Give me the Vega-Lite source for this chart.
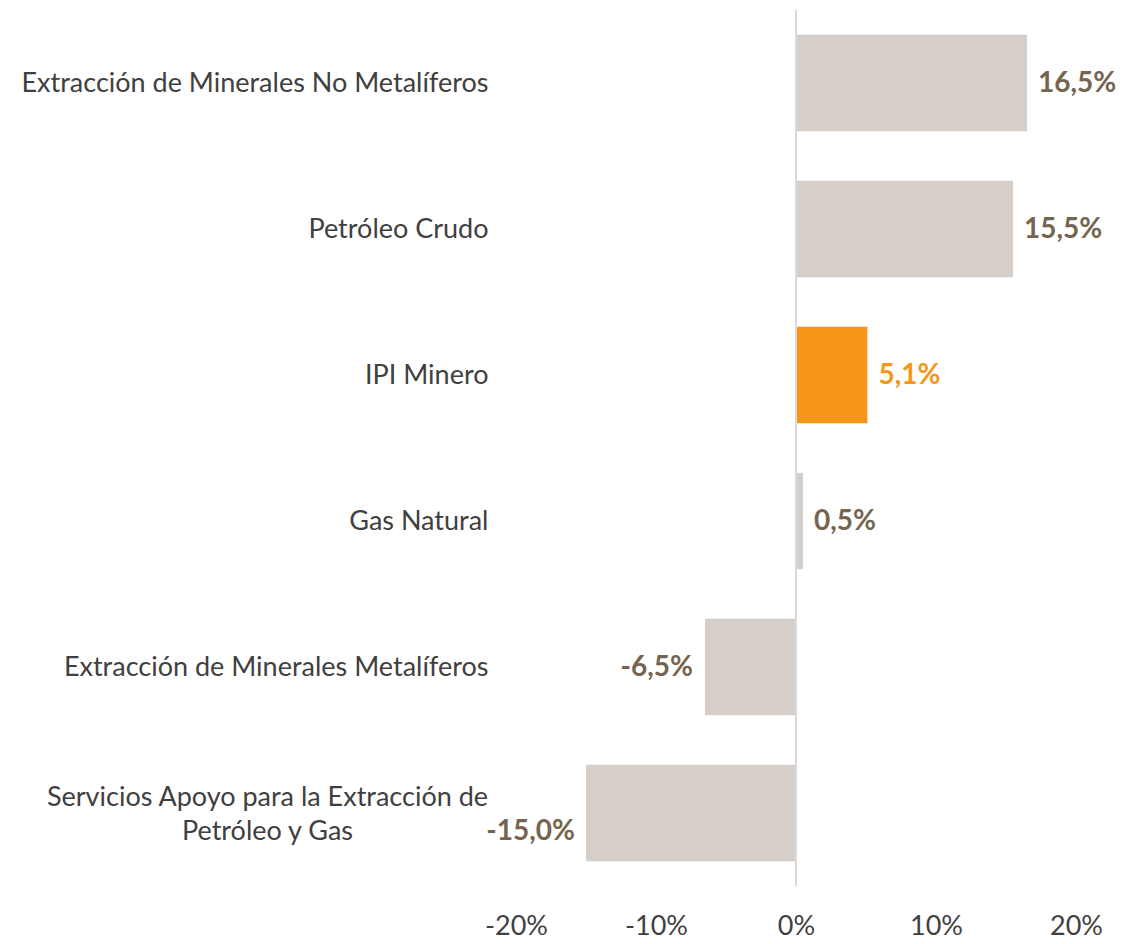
{
  "$schema": "https://vega.github.io/schema/vega-lite/v6.json",
  "autosize": "none",
  "width": 560,
  "height": 876,
  "padding": {"left": 516, "top": 10, "right": 49, "bottom": 58},
  "background": "white",
  "data": {
    "values": [
      {"categoria": "Extracción de Minerales No Metalíferos", "valor": 16.5, "etiqueta": "16,5%"},
      {"categoria": "Petróleo Crudo", "valor": 15.5, "etiqueta": "15,5%"},
      {"categoria": "IPI Minero", "valor": 5.1, "etiqueta": "5,1%"},
      {"categoria": "Gas Natural", "valor": 0.5, "etiqueta": "0,5%"},
      {"categoria": "Extracción de Minerales Metalíferos", "valor": -6.5, "etiqueta": "-6,5%"},
      {"categoria": "Servicios Apoyo para la Extracción de Petróleo y Gas", "valor": -15.0, "etiqueta": "-15,0%"}
    ]
  },
  "config": {"view": {"stroke": null}, "font": "Lato"},
  "encoding": {
    "y": {
      "field": "categoria",
      "type": "nominal",
      "sort": null,
      "title": null,
      "scale": {"paddingInner": 0.34, "paddingOuter": 0.17},
      "axis": {
        "domain": false,
        "ticks": false,
        "labelFont": "Lato",
        "labelFontSize": 27,
        "labelColor": "#404040",
        "labelLimit": 700,
        "labelLineHeight": 34,
        "labelExpr": "datum.value == 'Servicios Apoyo para la Extracción de Petróleo y Gas' ? ['Servicios Apoyo para la Extracción de', 'Petróleo y Gas'] : datum.label",
        "labelAlign": {"condition": {"test": "datum.value == 'Servicios Apoyo para la Extracción de Petróleo y Gas'", "value": "center"}, "value": "right"},
        "labelPadding": {"condition": {"test": "datum.value == 'Servicios Apoyo para la Extracción de Petróleo y Gas'", "value": 249}, "value": 28},
        "labelOffset": {"condition": {"test": "datum.value == 'Servicios Apoyo para la Extracción de Petróleo y Gas'", "value": -15}, "value": 1}
      }
    }
  },
  "layer": [
    {
      "mark": {"type": "bar"},
      "encoding": {
        "x": {
          "field": "valor",
          "type": "quantitative",
          "title": null,
          "scale": {"domain": [-20, 20]},
          "axis": {
            "values": [-20, -10, 0, 10, 20],
            "labelExpr": "datum.value + '%'",
            "domain": false,
            "ticks": false,
            "grid": false,
            "labelFlush": false,
            "labelFont": "Lato",
            "labelFontSize": 27,
            "labelColor": "#404040",
            "labelPadding": 27
          }
        },
        "color": {
          "condition": {"test": "datum.categoria == 'IPI Minero'", "value": "#f69619"},
          "value": "#d6cfc9"
        }
      }
    },
    {
      "mark": {"type": "rule", "color": "#d9d9d9", "strokeWidth": 2},
      "encoding": {"x": {"datum": 0}, "y": null}
    },
    {
      "transform": [{"filter": "datum.valor >= 0"}],
      "mark": {"type": "text", "align": "left", "dx": 11, "dy": 1, "fontWeight": "bold", "fontSize": 28, "font": "Lato"},
      "encoding": {
        "x": {"field": "valor", "type": "quantitative"},
        "text": {"field": "etiqueta"},
        "color": {
          "condition": {"test": "datum.categoria == 'IPI Minero'", "value": "#f69619"},
          "value": "#75654f"
        }
      }
    },
    {
      "transform": [{"filter": "datum.valor < 0 && datum.valor > -10"}],
      "mark": {"type": "text", "align": "right", "dx": -12, "dy": 1, "fontWeight": "bold", "fontSize": 28, "font": "Lato"},
      "encoding": {
        "x": {"field": "valor", "type": "quantitative"},
        "text": {"field": "etiqueta"},
        "color": {"value": "#75654f"}
      }
    },
    {
      "transform": [{"filter": "datum.valor <= -10"}],
      "mark": {"type": "text", "align": "right", "dx": -11, "dy": 19, "fontWeight": "bold", "fontSize": 28, "font": "Lato"},
      "encoding": {
        "x": {"field": "valor", "type": "quantitative"},
        "text": {"field": "etiqueta"},
        "color": {"value": "#75654f"}
      }
    }
  ]
}
